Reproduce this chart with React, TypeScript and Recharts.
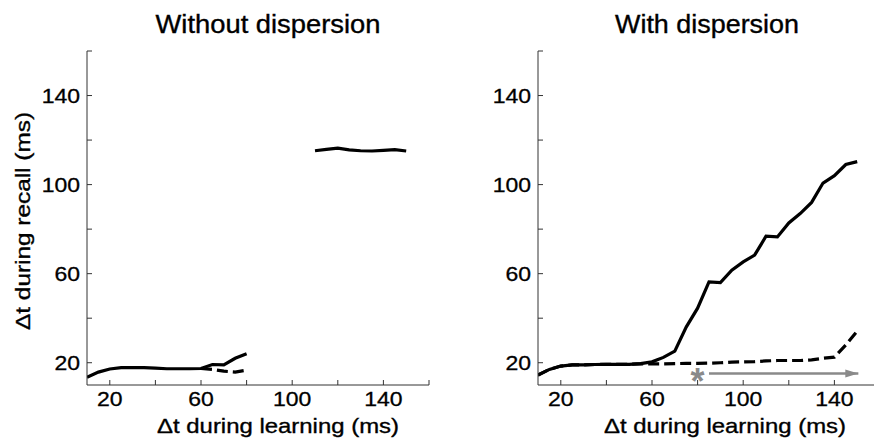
import React from 'react';
import { LineChart, Line, XAxis, YAxis, ReferenceDot } from 'recharts';

// learning interval (ms) sampled every 5 ms
const learningMs = [10, 15, 20, 25, 30, 35, 40, 45, 50, 55, 60, 65, 70, 75, 80, 85, 90, 95, 100, 105, 110, 115, 120, 125, 130, 135, 140, 145, 150];

// without dispersion
const noDispSolid = [13.5, 15.8, 17.2, 17.8, 17.8, 17.8, 17.6, 17.3, 17.3, 17.3, 17.4, 19.2, 19.0, 22.0, 24.0, null, null, null, null, null, 115.2, 115.8, 116.4, 115.6, 115.2, 115.1, 115.4, 115.7, 115.1];
const noDispDashed = [null, null, null, null, null, null, null, null, null, null, 17.4, 17.0, 16.2, 15.8, 16.7, null, null, null, null, null, null, null, null, null, null, null, null, null, null];

// with dispersion
const dispSolid = [14.5, 17.0, 18.5, 19.0, 19.0, 19.2, 19.3, 19.3, 19.3, 19.6, 20.4, 22.4, 25.2, 36.0, 44.5, 56.3, 56.0, 61.6, 65.3, 68.3, 76.8, 76.5, 82.8, 87.0, 92.0, 100.7, 104.0, 109.0, 110.3];
const dispDashed = [14.5, 17.0, 18.5, 19.0, 19.0, 19.2, 19.3, 19.3, 19.3, 19.5, 19.5, 19.5, 19.6, 19.7, 19.7, 19.8, 20.0, 20.3, 20.4, 20.5, 20.8, 21.0, 21.0, 21.0, 21.3, 22.0, 22.5, 28.0, 34.2];

// gray asterisk + arrow
const markerX = 80;
const markerY = 15.2;
const arrowX = [85, 150.5];
const arrowY = [15.2, 15.2];

const axisTicks = [20, 40, 60, 80, 100, 120, 140, 160];
const labeledTicks = [20, 60, 100, 140];

const FONT = '"Liberation Sans", Arial, Helvetica, sans-serif';
const STRETCH = 1.15;

const leftData = learningMs.map((x, i) => ({ x, solid: noDispSolid[i], dashed: noDispDashed[i] }));
const rightData = learningMs.map((x, i) => ({ x, solid: dispSolid[i], dashed: dispDashed[i] }));
const arrowData = arrowX.map((x, i) => ({ x, y: arrowY[i] }));

const XTick = (props: any) => {
  const { x, y, payload } = props;
  if (!labeledTicks.includes(payload.value)) return <g />;
  return (
    <text transform={`translate(${x},${y}) scale(${STRETCH},1)`} textAnchor="middle" dy="0.71em" fontSize={20} fill="#000" stroke="#000" strokeWidth={0.3} fontFamily={FONT}>
      {payload.value}
    </text>
  );
};

const YTick = (props: any) => {
  const { x, y, payload } = props;
  if (!labeledTicks.includes(payload.value)) return <g />;
  return (
    <text transform={`translate(${x},${y}) scale(${STRETCH},1)`} textAnchor="end" dy="0.355em" fontSize={20} fill="#000" stroke="#000" strokeWidth={0.3} fontFamily={FONT}>
      {payload.value}
    </text>
  );
};

const ArrowHead = (props: any) => {
  const { cx, cy, index } = props;
  if (index !== arrowData.length - 1 || cx == null) return <g key={`ah-${index}`} />;
  return <path key={`ah-${index}`} d={`M${cx},${cy} L${cx - 13},${cy - 4} L${cx - 13},${cy + 4} Z`} fill="#8a8a8a" />;
};

const Asterisk = (props: any) => (
  <text x={props.cx} y={props.cy} dy="0.56em" textAnchor="middle" fontSize={36} fontWeight="bold" fill="#8a8a8a" fontFamily={FONT}>*</text>
);

const Panel = ({ data, width, left, withArrow }: any) => (
  <LineChart width={width} height={438} data={data} margin={{ top: 51, right: width - left - 60 - 342, bottom: 23, left }}>
    <XAxis
      dataKey="x"
      type="number"
      domain={[10, 160]}
      ticks={axisTicks}
      height={30}
      stroke="#333"
      tickSize={-5}
      tickMargin={12}
      tick={<XTick />}
      allowDataOverflow
    />
    <YAxis
      type="number"
      domain={[10, 160]}
      ticks={axisTicks}
      width={60}
      stroke="#333"
      tickSize={-5}
      tickMargin={12}
      tick={<YTick />}
      allowDataOverflow
    />
    <Line dataKey="dashed" stroke="#000" strokeWidth={3.2} strokeDasharray="11 5" dot={false} isAnimationActive={false} connectNulls={false} />
    <Line dataKey="solid" stroke="#000" strokeWidth={3.2} dot={false} isAnimationActive={false} connectNulls={false} />
    {withArrow && (
      <Line data={arrowData} dataKey="y" stroke="#8a8a8a" strokeWidth={2.5} dot={<ArrowHead />} isAnimationActive={false} />
    )}
    {withArrow && <ReferenceDot x={markerX} y={markerY} r={0} shape={<Asterisk />} />}
  </LineChart>
);

export default function App() {
  return (
    <div style={{ position: 'absolute', left: 0, top: 0, width: 874, height: 438, overflow: 'hidden', background: '#fff', fontFamily: FONT }}>
      <div style={{ position: 'absolute', left: 0, top: 0 }}>
        <Panel data={leftData} width={440} left={27} withArrow={false} />
      </div>
      <div style={{ position: 'absolute', left: 440, top: 0 }}>
        <Panel data={rightData} width={450} left={38} withArrow />
      </div>
      <svg width={874} height={438} style={{ position: 'absolute', left: 0, top: 0, pointerEvents: 'none' }} fontFamily={FONT} stroke="#000" strokeWidth={0.35}>
        <text x={268} y={33} textAnchor="middle" fontSize={25} textLength={225} lengthAdjust="spacingAndGlyphs">Without dispersion</text>
        <text x={707} y={33} textAnchor="middle" fontSize={25} textLength={184} lengthAdjust="spacingAndGlyphs">With dispersion</text>
        <text x={278} y={433} textAnchor="middle" fontSize={21} textLength={242} lengthAdjust="spacingAndGlyphs">Δt during learning (ms)</text>
        <text x={725} y={433} textAnchor="middle" fontSize={21} textLength={242} lengthAdjust="spacingAndGlyphs">Δt during learning (ms)</text>
        <text transform="translate(29.5,221) rotate(-90)" textAnchor="middle" fontSize={20} textLength={218} lengthAdjust="spacingAndGlyphs">Δt during recall (ms)</text>
      </svg>
    </div>
  );
}
